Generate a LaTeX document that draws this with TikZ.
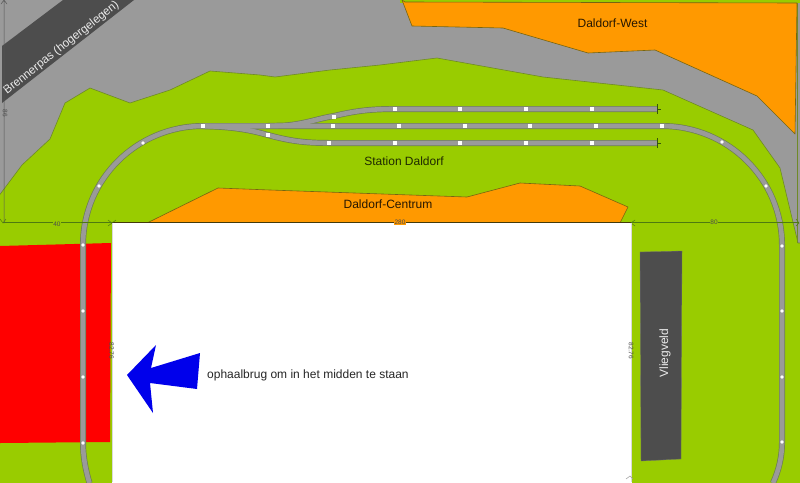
\documentclass[tikz,border=0pt]{standalone}
\usepackage{fontspec}
\setmainfont{Liberation Sans}
\definecolor{grnd}{HTML}{99CC00}
\definecolor{edge}{HTML}{6F8A28}
\definecolor{stone}{HTML}{9A9A9A}
\definecolor{oran}{HTML}{FF9900}
\definecolor{slate}{HTML}{4D4D4D}
\definecolor{railedge}{HTML}{6E7F50}
\definecolor{dim}{HTML}{4E7A10}
\tikzset{
  area/.style={line width=0.6pt,line join=round},
  lab/.style={font=\fontsize{12}{14}\selectfont,inner sep=0pt},
  tiny/.style={font=\fontsize{6.5}{7}\selectfont,inner sep=0pt,text=black!70},
  railbase/.style={draw=railedge,line width=6pt},
  railtop/.style={draw=stone,line width=4.6pt},
  dot/.style={fill=white,draw=none,minimum size=3.6pt,inner sep=0pt,rectangle},
  rnd/.style={fill=white,draw=none,minimum size=3.8pt,inner sep=0pt,circle},
  dimline/.style={draw=dim,line width=0.9pt},
}
\begin{document}
\begin{tikzpicture}[x=1pt,y=-1pt]
\useasboundingbox (0,0) rectangle (800,482);
\clip (0,0) rectangle (800,482);
% base
\fill[stone] (0,0) rectangle (800,245);
\fill[grnd] (400,0) rectangle (800,3);
% green ground
\filldraw[fill=grnd,draw=edge,area] (-2,197) -- (22,165) -- (50,139) -- (65,103) -- (90,88) -- (130,103) -- (170,90) -- (210,71) -- (260,75) -- (275,77) -- (330,70) -- (380,65) -- (437,58) -- (543,77) -- (663,90) -- (753,130) -- (780,168) -- (798,243) -- (802,243) -- (802,484) -- (-2,484) -- cycle;
\draw[edge,line width=0.6pt] (797,3) -- (797,243);
% Brennerpas band
\fill[slate] (2,46) -- (63,0) -- (134,0) -- (2,103) -- cycle;
\node[lab,font=\fontsize{11.7}{14}\selectfont,text=white!92!black,rotate=38.3] (brenner) at (61.5,48) {Brennerpas (hogergelegen)};
% orange areas
\filldraw[fill=oran,draw=edge!60!oran!70!black,area] (402,0) -- (412,26) -- (503,28) -- (588,53) -- (655,50) -- (757,96) -- (795,134) -- (797,3) -- (405,2) -- cycle;
\node[lab,text=black!70!oran!50!black] (west) at (612.5,23) {Daldorf-West};
\filldraw[fill=oran,draw=edge!60!oran!70!black,area] (147,223) -- (218,188) -- (270,190) -- (467,197) -- (520,183) -- (580,186) -- (628,207) -- (620,223) -- cycle;
\node[lab,text=black!70!oran!50!black] (centrum) at (388,204) {Daldorf-Centrum};
\node[lab,text=black!80!grnd] (station) at (404,161) {Station Daldorf};
% red bridge and white area
\fill[red] (0,246) -- (111,243) -- (110,442) -- (0,443) -- cycle;
\fill[white] (112,223) rectangle (632,483);
% tracks
\foreach \st in {railbase,railtop}{
  \draw[\st] (89.5,483) .. controls (85.5,470) and (83,456) .. (83,443) -- (83,245)
     .. controls (83,179) and (137,126) .. (203,126) -- (662,126)
     .. controls (728,126) and (782,179) .. (782,245) -- (782,443)
     .. controls (782,456) and (779,470) .. (773,483);
  \draw[\st] (205,126) -- (268,126) -- (285,125.5) .. controls (305,124) and (320,118) .. (334,116) .. controls (355,111) and (370,109) .. (395,109) -- (657,109);
  \draw[\st] (203,126) .. controls (235,127) and (250,130) .. (268,135) .. controls (290,141) and (305,143) .. (329,143) -- (657,143);
}
% bumpers
\foreach \yy in {109,143}{
  \draw[dim!70!black,line width=0.6pt] (657.5,\yy-5) -- (657.5,\yy+5);
  \draw[dim!70!black,line width=0.5pt] (657.5,\yy) -- (661,\yy);
}
% joints
\foreach \p in {(395,109),(460,109),(526,109),(592,109),(334,117),(268,126),(333,126),(399,126),(465,126),(530,126),(596,126),(662,126),(268,135),(329,143),(395,143),(460,143),(526,143),(592,143),(203,126)}{
  \node[dot] at \p {};
}
\foreach \p in {(143,143),(99,186),(722,142),(766,186),(782,246),(782,311),(782,377),(782,442),(83,245),(83,311),(83,377),(83,443)}{
  \node[rnd] at \p {};
}
% dimensions
\coordinate (d0) at (3,222.5);
\coordinate (d1) at (112,222.5);
\coordinate (d2) at (631,222.5);
\coordinate (d3) at (799,222.5);
\draw[dimline] (d0) -- (d1);
\draw[edge!60!oran!40!black,line width=0.7pt] (d1) -- (d2);
\draw[dimline] (d2) -- (d3);
\draw[dim,line width=0.5pt] (0,219) -- (3,223) -- (6,219) (108,220) -- (112,223) -- (108,226) (116,220) -- (112,223) (635,220) -- (631,223) -- (635,226) (796,219) -- (799,223) -- (796,226);
\draw[black!45!stone,line width=0.5pt] (4,0) -- (4,223) (1,4) -- (4,0) -- (7,4);
\draw[black!15,line width=0.4pt] (112,223) -- (112,482) (631,223) -- (631,482);
\draw[stone,line width=0.5pt] (626,479) -- (630,476) -- (633,479);
\node[tiny,fill=grnd,inner sep=0.3pt] (d40) at (57,224) {40};
\node[tiny,fill=oran,inner sep=0.3pt] (d280) at (400,222.5) {280};
\node[tiny,fill=grnd,inner sep=0.3pt] (d80) at (714,222.5) {80};
\node[tiny,rotate=-90] (v86) at (5,113) {86};
\node[tiny,rotate=-90] (v1) at (111.5,351) {82.76};
\node[tiny,rotate=-90] (v2) at (631,351) {82.76};
% Vliegveld
\filldraw[fill=slate,draw=slate!80,line width=0.3pt] (640,252) -- (682,251) -- (681,459) -- (641,461) -- cycle;
\node[lab,text=white!92!black,rotate=90] (vlieg) at (665,353) {Vliegveld};
% arrow
\fill[blue!92!black] (127,375) -- (156,345) -- (151,368) -- (200,353) -- (197,389) -- (150,383) -- (153,413) -- cycle;
\node[lab,text=black!85,anchor=west] (ophaal) at (207,375.5) {ophaalbrug om in het midden te staan};
\end{tikzpicture}
\end{document}
